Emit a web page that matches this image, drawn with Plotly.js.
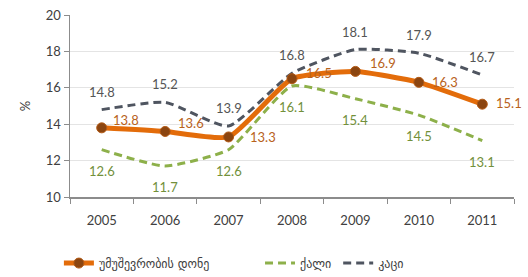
<!DOCTYPE html>
<html><head><meta charset="utf-8">
<script src="https://cdn.plot.ly/plotly-3.0.1.min.js"></script>
<style>html,body{margin:0;padding:0;background:#fff}#c{width:528px;height:277px}</style>
</head><body><div id="c"></div>
<script>
const years = ['2005','2006','2007','2008','2009','2010','2011'];
const unemployment = [13.8, 13.6, 13.3, 16.5, 16.9, 16.3, 15.1];
const female = [12.6, 11.7, 12.6, 16.1, 15.4, 14.5, 13.1];
const male = [14.8, 15.2, 13.9, 16.8, 18.1, 17.9, 16.7];
const names = ['უმუშევრობის დონე', 'ქალი', 'კაცი'];

const fmt = v => v.toFixed(1);
const font = 'Lato, "DejaVu Sans", sans-serif';
const cOrange = '#e36c0a', cGreen = '#8db04a', cGray = '#4f5560';
const lOrange = '#b8621c', lGreen = '#72903a', lGray = '#555555';

const traces = [
  {x: years, y: male, name: names[2], mode: 'lines', type: 'scatter', legend: 'legend3',
   line: {color: cGray, width: 3, dash: '8px,5px', shape: 'spline', smoothing: 0.5}},
  {x: years, y: female, name: names[1], mode: 'lines', type: 'scatter', legend: 'legend2',
   line: {color: cGreen, width: 3, dash: '8px,5px', shape: 'spline', smoothing: 0.5}},
  {x: years, y: unemployment, name: names[0], mode: 'lines+markers', type: 'scatter', legend: 'legend',
   line: {color: cOrange, width: 5, shape: 'spline', smoothing: 0.5},
   marker: {color: '#8b4510', size: 10, line: {color: '#b45a14', width: 1}}}
];

// label placement (pixel shifts from each point)
const uShiftX = [24, 26, 34, 27, 28, 26, 27];
const uShiftY = [8, 8, 0, 6, 8, 0, 1];
const annotations = [];
years.forEach((yr, i) => {
  // x given as category index on the category axis
  annotations.push({xref: 'x', yref: 'y', x: i, y: male[i], text: fmt(male[i]), showarrow: false, yshift: 18,
    font: {color: lGray, size: 13, family: font}});
  annotations.push({xref: 'x', yref: 'y', x: i, y: female[i], text: fmt(female[i]), showarrow: false, yshift: -21,
    font: {color: lGreen, size: 13, family: font}});
  annotations.push({xref: 'x', yref: 'y', x: i, y: unemployment[i], text: fmt(unemployment[i]), showarrow: false,
    xshift: uShiftX[i], yshift: uShiftY[i],
    font: {color: lOrange, size: 13, family: font}});
});

const legFont = {size: 12, color: '#404040', family: '"DejaVu Sans", sans-serif'};
const layout = {
  width: 528, height: 277,
  margin: {l: 70, r: 14, t: 15, b: 80, autoexpand: false},
  paper_bgcolor: '#fff', plot_bgcolor: '#fff',
  font: {family: font, size: 13, color: '#404040'},
  showlegend: true,
  legend: {orientation: 'h', x: -0.025, xanchor: 'left', y: -0.363, yanchor: 'middle', font: legFont, bgcolor: 'rgba(0,0,0,0)'},
  legend2: {orientation: 'h', x: 0.428, xanchor: 'left', y: -0.363, yanchor: 'middle', font: legFont, bgcolor: 'rgba(0,0,0,0)'},
  legend3: {orientation: 'h', x: 0.604, xanchor: 'left', y: -0.363, yanchor: 'middle', font: legFont, bgcolor: 'rgba(0,0,0,0)'},
  annotations: annotations,
  xaxis: {type: 'category', range: [-0.5, 6.5], showgrid: false, showline: true,
          linecolor: '#8c8c8c', linewidth: 1.5, ticks: 'outside', tickson: 'boundaries',
          ticklen: 5, tickcolor: '#8c8c8c', ticklabelstandoff: 11,
          tickfont: {size: 13, color: '#404040'}},
  yaxis: {range: [10, 20], dtick: 2, showgrid: true, gridcolor: '#e4e4e4',
          showline: true, linecolor: '#8c8c8c', linewidth: 1.5, ticks: 'outside',
          ticklen: 5, tickcolor: '#8c8c8c', zeroline: false,
          tickfont: {size: 13, color: '#404040'},
          title: {text: '%', font: {size: 13, color: '#404040'}, standoff: 12}}
};

Plotly.newPlot('c', traces, layout, {displayModeBar: false, staticPlot: true});
</script></body></html>
